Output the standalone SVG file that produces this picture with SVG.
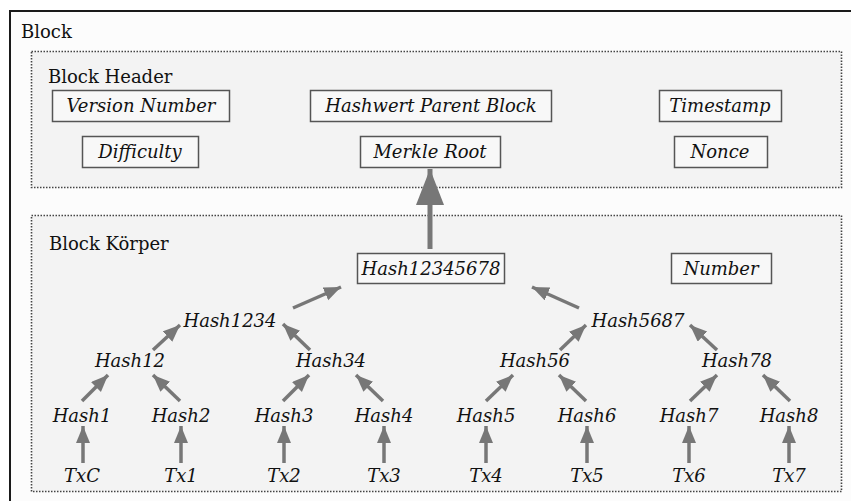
<svg xmlns="http://www.w3.org/2000/svg" width="851" height="501" viewBox="0 0 851 501">
<style>
text{font-family:'DejaVu Serif',serif}
.lbl{font-size:18px;fill:#111}
.it{font-size:18px;font-style:italic;fill:#111;text-anchor:middle}
.box{fill:#f8f8f8;stroke:#555;stroke-width:1.5}
.grp{fill:#f3f3f3;stroke:#444;stroke-width:1.6;stroke-dasharray:1.5 1.5}
.arr{stroke:#777;stroke-width:3.5;fill:none;marker-end:url(#ah)}
.big{stroke:#777;stroke-width:5;fill:none;marker-end:url(#bh)}
</style>
<defs>
<marker id="ah" markerUnits="userSpaceOnUse" markerWidth="20" markerHeight="16" refX="17" refY="7" orient="auto">
<path d="M0,0 L17,7 L0,14 Z" fill="#777"/>
</marker>
<marker id="bh" markerUnits="userSpaceOnUse" markerWidth="40" markerHeight="30" refX="36" refY="14" orient="auto">
<path d="M0,0 L36,14 L0,28 Z" fill="#777"/>
</marker>
</defs>
<rect x="0" y="0" width="851" height="501" fill="#ffffff"/>
<g id="block">
<rect x="10" y="11" width="860" height="520" fill="#fcfcfc" stroke="#1a1a1a" stroke-width="2"/>
<text class="lbl" x="21" y="38">Block</text>
</g>
<g id="header">
<rect class="grp" x="31.5" y="51.5" width="810" height="136"/>
<text class="lbl" x="48" y="83">Block Header</text>
</g>
<g id="body">
<rect class="grp" x="31.5" y="215.5" width="810" height="276"/>
<text class="lbl" x="49" y="250">Block Körper</text>
</g>
<g id="version"><rect class="box" x="52.5" y="90.5" width="177" height="31"/><text class="it" x="141" y="112">Version Number</text></g>
<g id="parent"><rect class="box" x="310.5" y="90.5" width="241" height="31"/><text class="it" x="431" y="112">Hashwert Parent Block</text></g>
<g id="timestamp"><rect class="box" x="659.5" y="90.5" width="122" height="31"/><text class="it" x="720" y="112">Timestamp</text></g>
<g id="difficulty"><rect class="box" x="82.5" y="136.5" width="116" height="31"/><text class="it" x="140" y="158">Difficulty</text></g>
<g id="merkle"><rect class="box" x="360.5" y="136.5" width="140" height="31"/><text class="it" x="430" y="158">Merkle Root</text></g>
<g id="nonce"><rect class="box" x="674.5" y="136.5" width="93" height="31"/><text class="it" x="720" y="158">Nonce</text></g>
<g id="hash12345678"><rect class="box" x="357.5" y="253.5" width="147" height="30"/><text class="it" x="431" y="275">Hash12345678</text></g>
<g id="number"><rect class="box" x="671.5" y="253.5" width="100" height="30"/><text class="it" x="721" y="275">Number</text></g>
<g id="hash1234"><text class="it" x="230" y="327">Hash1234</text></g>
<g id="hash5687"><text class="it" x="638" y="327">Hash5687</text></g>
<g id="hash12"><text class="it" x="130" y="367">Hash12</text></g>
<g id="hash34"><text class="it" x="331" y="367">Hash34</text></g>
<g id="hash56"><text class="it" x="535" y="367">Hash56</text></g>
<g id="hash78"><text class="it" x="737" y="367">Hash78</text></g>
<g id="hash1"><text class="it" x="82" y="422">Hash1</text></g>
<g id="hash2"><text class="it" x="181" y="422">Hash2</text></g>
<g id="hash3"><text class="it" x="284" y="422">Hash3</text></g>
<g id="hash4"><text class="it" x="384" y="422">Hash4</text></g>
<g id="hash5"><text class="it" x="486" y="422">Hash5</text></g>
<g id="hash6"><text class="it" x="587" y="422">Hash6</text></g>
<g id="hash7"><text class="it" x="689" y="422">Hash7</text></g>
<g id="hash8"><text class="it" x="789" y="422">Hash8</text></g>
<g id="txc"><text class="it" x="82" y="482">TxC</text></g>
<g id="tx1"><text class="it" x="181" y="482">Tx1</text></g>
<g id="tx2"><text class="it" x="284" y="482">Tx2</text></g>
<g id="tx3"><text class="it" x="384" y="482">Tx3</text></g>
<g id="tx4"><text class="it" x="486" y="482">Tx4</text></g>
<g id="tx5"><text class="it" x="587" y="482">Tx5</text></g>
<g id="tx6"><text class="it" x="689" y="482">Tx6</text></g>
<g id="tx7"><text class="it" x="789" y="482">Tx7</text></g>
<g id="connectors">
<line class="big" x1="430" y1="249" x2="430" y2="169"/>
<line class="arr" x1="293" y1="308" x2="341" y2="287"/>
<line class="arr" x1="579" y1="308" x2="532" y2="287"/>
<line class="arr" x1="153" y1="350" x2="180" y2="325"/>
<line class="arr" x1="310" y1="350" x2="283" y2="324"/>
<line class="arr" x1="560" y1="350" x2="586" y2="325"/>
<line class="arr" x1="717" y1="350" x2="690" y2="325"/>
<line class="arr" x1="82" y1="401" x2="108" y2="375"/>
<line class="arr" x1="180" y1="401" x2="153" y2="375"/>
<line class="arr" x1="283" y1="401" x2="309" y2="375"/>
<line class="arr" x1="383" y1="401" x2="356" y2="375"/>
<line class="arr" x1="486" y1="401" x2="513" y2="375"/>
<line class="arr" x1="586" y1="401" x2="559" y2="375"/>
<line class="arr" x1="690" y1="401" x2="717" y2="375"/>
<line class="arr" x1="790" y1="401" x2="763" y2="375"/>
<line class="arr" x1="83" y1="463" x2="83" y2="426"/>
<line class="arr" x1="181" y1="463" x2="181" y2="426"/>
<line class="arr" x1="284" y1="463" x2="284" y2="426"/>
<line class="arr" x1="384" y1="463" x2="384" y2="426"/>
<line class="arr" x1="486" y1="463" x2="486" y2="426"/>
<line class="arr" x1="587" y1="463" x2="587" y2="426"/>
<line class="arr" x1="689" y1="463" x2="689" y2="426"/>
<line class="arr" x1="789" y1="463" x2="789" y2="426"/>
</g>
</svg>
